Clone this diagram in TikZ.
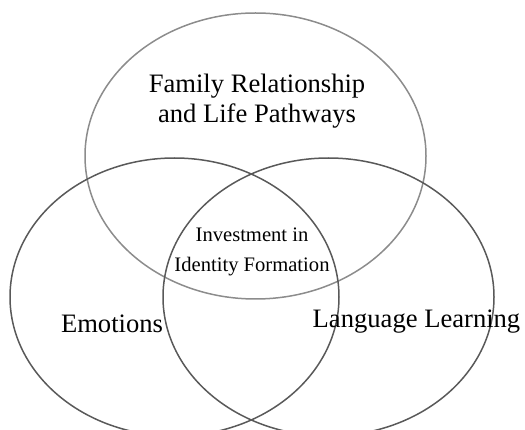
\documentclass[tikz,border=0pt]{standalone}
\usepackage{fontspec}
\setmainfont{Liberation Serif}
\usetikzlibrary{shapes.geometric,positioning}

\begin{document}
\begin{tikzpicture}
            [
            x=1pt, y=-1pt,
            set/.style={ellipse, draw=#1, line width=1.5pt, inner sep=0pt},
            big label/.style={font=\fontsize{26.6}{30}\selectfont, align=center, inner sep=0pt},
            small label/.style={font=\fontsize{20.6}{30}\selectfont, align=center, inner sep=0pt}
            ]

            \useasboundingbox (0,0) rectangle (525,430);
            \clip (0,0) rectangle (525,430);

            % the three sets
            \node (family) [set=black!45, minimum width=341pt, minimum height=286pt] at (255.5,156) {};
            \node (emotions) [set=black!65, minimum width=329pt, minimum height=278pt] at (174.5,297) {};
            \node (language) [set=black!65, minimum width=331pt, minimum height=278pt] at (328.5,297) {};

            % labels
            \node (family text) [big label] at (257,101) {Family Relationship\\and Life Pathways};
            \node (core text) [small label] at (252,252) {Investment in\\Identity Formation};
            \node (emotions text) [big label, anchor=base] at (112,333) {Emotions};
            \node (language text) [big label, anchor=base] at (416.5,328) {Language Learning};

        \end{tikzpicture}
\end{document}
